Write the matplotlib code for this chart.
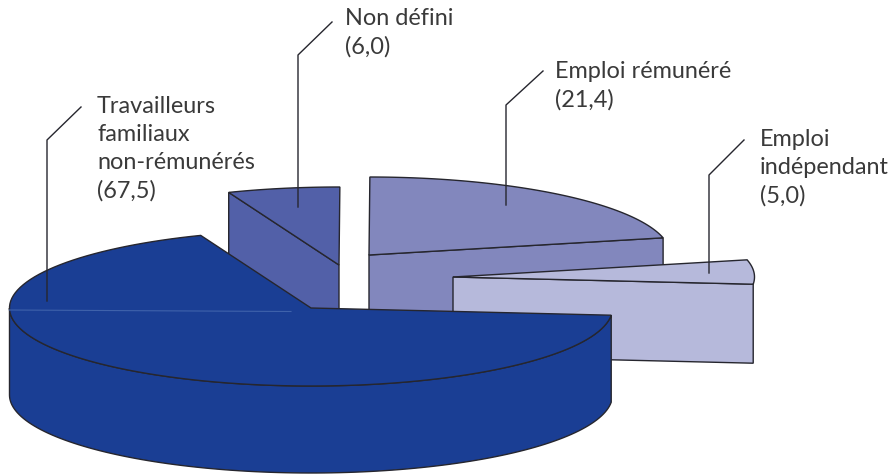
import numpy as np
import matplotlib
matplotlib.use('Agg')
import matplotlib.pyplot as plt
from matplotlib.patches import Polygon

plt.rcParams['font.family'] = ['Lato', 'DejaVu Sans']

# data
categories = ['Travailleurs\nfamiliaux\nnon-rémunérés', 'Non défini', 'Emploi rémunéré', 'Emploi\nindépendant']
values = [67.5, 6.0, 21.4, 5.0]
value_labels = ['(67,5)', '(6,0)', '(21,4)', '(5,0)']

# styling and layout, same order as the categories
colours = ['#1a3e94', '#5260a8', '#8287bd', '#b6b9db']
apex_x = [311, 339, 369, 453]
apex_y = [308, 265, 255, 277]
depths = [87, 86, 86, 79]
label_x = [97, 345, 555, 760]
label_top = [96, 8, 61, 129]
leaders_x = [[47, 47, 81], [298, 298, 332], [506, 506, 543], [709, 709, 744]]
leaders_y = [[301, 140, 107], [207, 55, 22], [205, 105, 71], [273, 175, 140]]

radius_x = 301.5
radius_y = 78
start_angle = -5.3
edge = '#26262e'
text_colour = '#3a3a3a'


def arc(cx, cy, t1, t2):
    t = np.radians(np.linspace(t1, t2, 120))
    return np.column_stack([cx + radius_x * np.cos(t), cy - radius_y * np.sin(t)])


def draw_slice(ax, i, t1, t2, z):
    cx, cy, d = apex_x[i], apex_y[i], depths[i]
    down = np.array([0, d])
    apex = np.array([cx, cy])
    colour = colours[i]
    top = arc(cx, cy, t1, t2)

    if i == 0:
        # big slice: round front wall, from the right end to the left extreme
        front = arc(cx, cy, t1, -180)
        wall = np.vstack([front, (front + down)[::-1]])
    elif i == 1:
        # cut face turned to the viewer, on the left edge of the slice
        wall = np.array([top[0], apex, apex + down, top[0] + down])
    else:
        # cut face on the right edge of the slice
        wall = np.array([apex, top[-1], top[-1] + down, apex + down])
    ax.add_patch(Polygon(wall, closed=True, facecolor=colour, edgecolor=edge, linewidth=1, zorder=z))
    ax.add_patch(Polygon(np.vstack([apex, top]), closed=True, facecolor=colour, edgecolor=edge, linewidth=1, zorder=z + 0.1))


def main():
    fig = plt.figure(figsize=(8.91, 4.75), dpi=100)
    ax = fig.add_axes([0, 0, 1, 1])
    ax.set_xlim(0, 891)
    ax.set_ylim(475, 0)
    ax.axis('off')

    # slice angles come from the values, going clockwise
    sweep = np.array(values) / sum(values) * 360
    ends = start_angle - np.cumsum(sweep)
    starts = ends + sweep

    # back to front
    for z, i in enumerate([1, 2, 3, 0]):
        t1, t2 = starts[i], ends[i]
        draw_slice(ax, i, t1, t2, z + 1)

    # faint highlight on the big slice
    ax.plot([apex_x[0] - radius_x, apex_x[0] - 20], [apex_y[0] + 2, apex_y[0] + 3.5], color='#3f62ab', linewidth=0.8, zorder=5)

    for i in range(len(values)):
        ax.plot(leaders_x[i], leaders_y[i], color=edge, linewidth=1, zorder=10)
        ax.text(label_x[i], label_top[i], categories[i] + '\n' + value_labels[i], fontsize=16.9, color=text_colour,
                ha='left', va='top', linespacing=1.4, zorder=10)

    plt.savefig('out.png', dpi=100)


if __name__ == "__main__":
    main()
